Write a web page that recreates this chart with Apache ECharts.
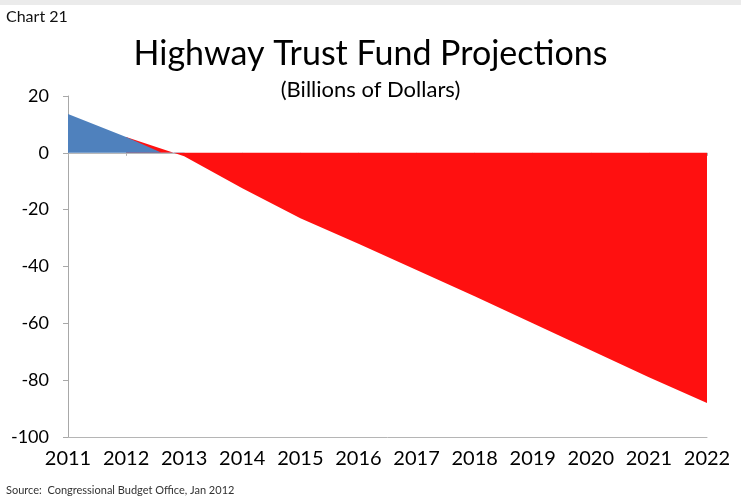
<!DOCTYPE html>
<html>
<head>
<meta charset="utf-8">
<title>Highway Trust Fund Projections</title>
<script src="https://cdn.jsdelivr.net/npm/echarts@6/dist/echarts.min.js"></script>
<style>
  html, body { margin: 0; padding: 0; background: #fff; }
  #chart { width: 741px; height: 501px; }
</style>
</head>
<body>
<div id="chart"></div>
<script>
// Fiscal years on the horizontal axis
const years = ['2011', '2012', '2013', '2014', '2015', '2016', '2017', '2018', '2019', '2020', '2021', '2022'];
// Remaining positive balance (billions of dollars)
const balance = [13.7, 5.6, -3.5, null, null, null, null, null, null, null, null, null];
// Projected shortfall (billions of dollars)
const shortfall = [null, 5.6, -1.2, -12.5, -23, -32, -41.2, -50.5, -60, -69.5, -79, -88];
// Value axis ticks
const yTicks = { min: -100, max: 20, interval: 20 };

const font = 'Lato, "Open Sans", "Liberation Sans", sans-serif';
const blue = '#4f81bd';
const red = '#ff1010';

// The balance area is only shown above zero: its fill fades to transparent
// at the zero line, measured within the area's own bounding box.
const balVals = balance.filter(v => v !== null);
const balTop = Math.max(0, ...balVals);
const balBottom = Math.min(0, ...balVals);
const zeroStop = balTop / (balTop - balBottom);
const balanceFill = new echarts.graphic.LinearGradient(0, 0, 0, 1, [
  { offset: 0, color: blue },
  { offset: zeroStop, color: blue },
  { offset: zeroStop, color: 'rgba(79,129,189,0)' },
  { offset: 1, color: 'rgba(79,129,189,0)' }
]);

const chart = echarts.init(document.getElementById('chart'), null, { renderer: 'canvas' });

chart.setOption({
  backgroundColor: '#ffffff',
  animation: false,
  graphic: [
    { type: 'rect', shape: { x: 0, y: 0, width: 741, height: 5 }, style: { fill: '#ebebeb' } },
    { type: 'text', left: 6, top: 9, style: { text: 'Chart 21', font: '16px ' + font, fill: '#111' } },
    { type: 'text', left: 6, top: 485, style: { text: 'Source:  Congressional Budget Office, Jan 2012', font: '11px ' + font, fill: '#333' } }
  ],
  title: {
    text: 'Highway Trust Fund Projections',
    subtext: '(Billions of Dollars)',
    left: 'center',
    top: 32,
    itemGap: 8,
    textStyle: { fontFamily: font, fontSize: 34, fontWeight: 'normal', color: '#000' },
    subtextStyle: { fontFamily: font, fontSize: 22, color: '#000' }
  },
  grid: { left: 68, right: 34, top: 96, bottom: 64, containLabel: false },
  xAxis: [
    {
      type: 'category',
      data: years,
      boundaryGap: false,
      position: 'bottom',
      axisLine: { onZero: false, lineStyle: { color: '#b5b5b5', width: 1 } },
      axisTick: { show: false },
      axisLabel: { color: '#000', fontFamily: font, fontSize: 20, margin: 12, interval: 0 },
      splitLine: { show: false }
    },
    {
      type: 'category',
      data: years,
      boundaryGap: false,
      position: 'bottom',
      axisLine: { onZero: true, lineStyle: { color: '#b9b9b9', width: 1 } },
      axisTick: { show: true, length: 3, inside: false, alignWithLabel: true, lineStyle: { color: '#b0b0b0' } },
      axisLabel: { show: false },
      splitLine: { show: false }
    }
  ],
  yAxis: {
    type: 'value',
    min: yTicks.min,
    max: yTicks.max,
    interval: yTicks.interval,
    axisLine: { show: true, lineStyle: { color: '#a8a8a8', width: 1 } },
    axisTick: { show: true, length: 5, lineStyle: { color: '#a8a8a8' } },
    axisLabel: { color: '#000', fontFamily: font, fontSize: 18, margin: 19 },
    splitLine: { show: false }
  },
  series: [
    {
      name: 'Shortfall',
      type: 'line',
      data: shortfall,
      symbol: 'none',
      connectNulls: false,
      lineStyle: { width: 0, color: red },
      itemStyle: { color: red },
      areaStyle: { color: red, opacity: 1 },
      z: 2
    },
    {
      name: 'Balance',
      type: 'line',
      data: balance,
      symbol: 'none',
      connectNulls: false,
      lineStyle: { width: 0, color: blue },
      itemStyle: { color: blue },
      areaStyle: { color: balanceFill, opacity: 1 },
      z: 3
    }
  ]
});
</script>
</body>
</html>
